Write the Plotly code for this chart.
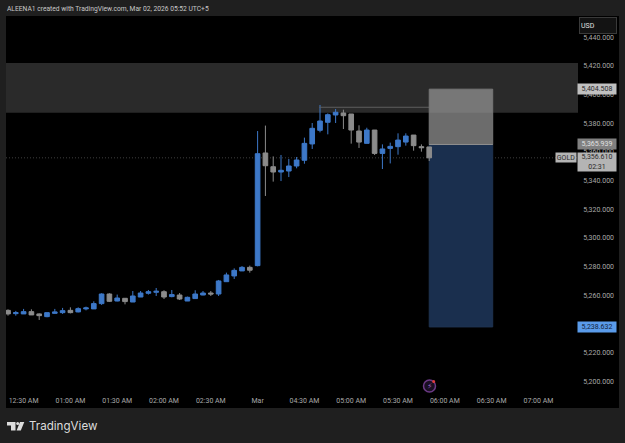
import plotly.graph_objects as go

# Five-minute GOLD candles, oldest first
opens = [5250.2,5247.9,5247.7,5249.3,5247.7,5245.8,5248.1,5248.6,5250.2,5249.1,5251.2,5251.2,5254.9,5261.6,5256.7,5258.6,
         5256.0,5259.5,5262.1,5262.8,5263.2,5259.8,5260.9,5256.7,5258.4,5260.9,5262.3,5261.6,5270.2,5274.2,5277.7,5280.2,
         5281.4,5360.0,5350.4,5346.7,5347.4,5350.9,5354.9,5366.3,5375.8,5381.4,5386.5,5387.9,5387.2,5375.3,5366.7,5376.0,
         5359.7,5363.2,5364.4,5367.6,5372.5,5364.4,5364.2]
highs = [5250.9,5249.8,5251.2,5250.9,5248.1,5248.6,5251.2,5251.9,5252.3,5252.3,5252.8,5256.5,5262.1,5262.1,5261.2,5258.8,
         5263.7,5263.7,5264.4,5265.8,5264.2,5264.4,5262.3,5259.8,5264.2,5263.7,5263.7,5271.4,5276.5,5279.5,5281.1,5281.4,
         5375.3,5379.1,5357.6,5358.6,5355.8,5357.2,5370.7,5380.9,5393.5,5387.6,5390.7,5390.2,5387.2,5379.3,5377.6,5376.0,
         5366.0,5367.2,5373.7,5373.7,5372.5,5366.0,5364.2]
lows = [5246.5,5246.5,5247.7,5247.0,5243.5,5245.4,5247.9,5247.7,5248.1,5248.8,5250.2,5251.2,5254.0,5256.0,5256.5,5254.4,
        5256.0,5259.5,5261.2,5260.2,5258.1,5259.3,5257.4,5256.7,5258.4,5260.7,5260.2,5260.2,5270.2,5272.1,5277.7,5276.5,
        5280.9,5330.0,5340.0,5340.4,5343.2,5349.3,5352.5,5362.8,5374.4,5373.0,5380.9,5376.7,5366.5,5363.5,5366.7,5358.6,
        5348.8,5352.7,5358.8,5365.1,5361.6,5360.9,5354.4]
closes = [5247.7,5248.6,5249.3,5247.0,5246.5,5248.6,5249.1,5250.0,5248.6,5251.4,5251.9,5254.9,5261.6,5256.5,5258.8,5256.3,
          5260.2,5262.3,5263.2,5263.5,5259.5,5261.2,5258.1,5259.3,5261.6,5262.3,5261.6,5270.7,5274.9,5278.1,5280.2,5278.2,
          5359.5,5351.1,5346.7,5347.9,5350.9,5355.1,5366.7,5377.2,5382.3,5386.7,5388.4,5386.0,5376.0,5367.6,5376.0,5359.7,
          5362.8,5364.6,5369.0,5371.8,5365.1,5363.7,5356.61]

price_ticks = [5200,5220,5260,5280,5300,5320,5340,5360,5380,5400,5420,5440]
time_tick_slots = [2,8,14,20,26,32,38,44,50,56,62,68]
time_tick_labels = ["12:30 AM","01:00 AM","01:30 AM","02:00 AM","02:30 AM","Mar","04:30 AM","05:00 AM","05:30 AM","06:00 AM","06:30 AM","07:00 AM"]

# Position tool levels and the supply zone
stop_price, entry_price, target_price = 5404.508, 5365.939, 5238.632
last_price = 5356.61
zone_low, zone_high = 5388.1, 5422.8
swing_high = 5391.9
tool_left, tool_right = 54.0, 62.14
swing_left = 39.9

X_RANGE = [-0.256, 78.33]
Y_RANGE = [5182.07, 5455.56]
PANE_W, PANE_H = 613, 392
CHART_RIGHT = (578 - 6) / PANE_W  # price scale begins here, as a share of the pane width

FONT = "Roboto"
BLUE = "#3d78c8"
GREY = "#8b8b8b"
BRAND = "#dcdcdc"


def px(x):
    """Window x pixel to pane fraction."""
    return (x - 6) / PANE_W


def py(y):
    """Window y pixel to pane fraction."""
    return (408 - y) / PANE_H


fig = go.Figure()
fig.add_trace(go.Candlestick(
    x=list(range(len(opens))), open=opens, high=highs, low=lows, close=closes,
    increasing=dict(line=dict(color=BLUE, width=1), fillcolor=BLUE),
    decreasing=dict(line=dict(color=GREY, width=1), fillcolor=GREY),
    whiskerwidth=0, hoverinfo="skip", showlegend=False,
))

shapes = [
    # supply zone
    dict(type="rect", xref="paper", yref="y", x0=0, x1=CHART_RIGHT, y0=zone_low, y1=zone_high,
         fillcolor="#2a2a2a", line_width=0, layer="below"),
    # last-price dotted line
    dict(type="line", xref="paper", yref="y", x0=0, x1=CHART_RIGHT, y0=last_price, y1=last_price,
         line=dict(color="#3f3f3f", width=1, dash="1px,2px"), layer="below"),
    # swing-high line
    dict(type="line", xref="x", yref="y", x0=swing_left, x1=tool_left, y0=swing_high, y1=swing_high,
         line=dict(color="#5f5f5f", width=1), layer="above"),
    # risk and reward boxes
    dict(type="rect", xref="x", yref="y", x0=tool_left, x1=tool_right, y0=entry_price, y1=stop_price,
         fillcolor="rgba(150,150,150,0.72)", line=dict(color="#777777", width=1), layer="above"),
    dict(type="rect", xref="x", yref="y", x0=tool_left, x1=tool_right, y0=target_price, y1=entry_price,
         fillcolor="#1a2f4e", line=dict(color="#1f3350", width=1), layer="below"),
    # entry level
    dict(type="line", xref="x", yref="y", x0=tool_left, x1=tool_right, y0=entry_price, y1=entry_price,
         line=dict(color="#8f8f8f", width=1), layer="above"),
    # alert badge ring and its red dot
    dict(type="circle", xref="paper", yref="paper", x0=px(423.5), x1=px(435.5), y0=py(392), y1=py(380),
         line=dict(color="#6c3a86", width=1.5), fillcolor="#1a0f22", layer="above"),
    dict(type="circle", xref="paper", yref="paper", x0=px(432.2), x1=px(435.2), y0=py(383), y1=py(380),
         line_width=0, fillcolor="#e03b3b", layer="above"),
    # TradingView mark: T, dot and slash
    dict(type="path", xref="paper", yref="paper", layer="above", fillcolor=BRAND, line_width=0,
         path=" ".join([
             f"M {px(7)} {py(422)} L {px(15.5)} {py(422)} L {px(15.5)} {py(430.5)} L {px(11)} {py(430.5)}",
             f"L {px(11)} {py(425.5)} L {px(7)} {py(425.5)} Z",
             f"M {px(20)} {py(422)} L {px(24.3)} {py(422)} L {px(20.8)} {py(430.5)} L {px(16.6)} {py(430.5)} Z",
         ])),
    dict(type="circle", xref="paper", yref="paper", x0=px(16.2), x1=px(19.2), y0=py(425), y1=py(422),
         line_width=0, fillcolor=BRAND, layer="above"),
]


def tag(price, text, bg, fg, height=10):
    return dict(xref="paper", yref="y", x=px(617), y=price, text=text, showarrow=False,
                xanchor="right", yanchor="middle", bgcolor=bg, height=height, width=38,
                font=dict(family=FONT, size=7, color=fg), borderpad=0)


annotations = [
    tag(stop_price, "5,404.508", "#c0c0c0", "#2a2a2a"),
    tag(entry_price, "5,365.939", "#808080", "#e0e0e0"),
    tag(target_price, "5,238.632", "#5a9bea", "#12233a"),
    tag(last_price - 3.2, "5,356.610<br>02:31", "#b4b4b4", "#2a2a2a", height=18),
    dict(xref="paper", yref="y", x=px(577), xanchor="right", y=last_price, text="GOLD", showarrow=False,
         bgcolor="#b4b4b4", font=dict(family=FONT, size=7, color="#2a2a2a"), width=20, height=9, borderpad=0),
    dict(xref="paper", yref="paper", x=px(617), xanchor="right", y=py(25), yanchor="middle",
         text="USD", showarrow=False, font=dict(family=FONT, size=7, color="#e0e0e0"),
         width=34, height=13, bordercolor="#3a3a3a", borderwidth=1, bgcolor="#131313", align="left"),
    dict(xref="paper", yref="paper", x=px(429.5), y=py(386), xanchor="center", yanchor="middle",
         text="⚡", showarrow=False, font=dict(family="DejaVu Sans", size=8, color="#9a5cc0")),
    # header and brand line sit outside the pane
    dict(xref="paper", yref="paper", x=0, y=1, yshift=1, xshift=-1, xanchor="left", yanchor="bottom",
         text="ALEENA1 created with TradingView.com, Mar 02, 2026 05:52 UTC+5", showarrow=False,
         font=dict(family=FONT, size=6.7, color="#c8c8c8")),
    dict(xref="paper", yref="paper", x=px(27), y=py(426), xanchor="left", yanchor="middle",
         text="TradingView", showarrow=False, font=dict(family="Inter", size=11.6, color=BRAND)),
]

fig.update_layout(
    width=625, height=443, margin=dict(l=6, r=6, t=16, b=35),
    paper_bgcolor="#1f1f1f", plot_bgcolor="#000000",
    font=dict(family=FONT, size=7, color="#a9a9a9"),
    shapes=shapes, annotations=annotations, showlegend=False,
    xaxis=dict(range=X_RANGE, tickmode="array", tickvals=time_tick_slots, ticktext=time_tick_labels,
               ticklabelposition="inside", ticklabelstandoff=1,
               tickfont=dict(family=FONT, size=7, color="#a9a9a9"), ticks="",
               showgrid=False, zeroline=False, showline=False, rangeslider=dict(visible=False), fixedrange=True),
    yaxis=dict(range=Y_RANGE, side="right", tickmode="array", tickvals=price_ticks,
               ticktext=[f"{p:,.3f}" for p in price_ticks], ticklabelposition="inside",
               ticklabelstandoff=2, ticklabelshift=-1,
               tickfont=dict(family=FONT, size=7, color="#a9a9a9"), ticks="",
               showgrid=False, zeroline=False, showline=False, fixedrange=True),
    boxgap=0.15,
)

fig.write_html("out.html", config=dict(displayModeBar=False))
